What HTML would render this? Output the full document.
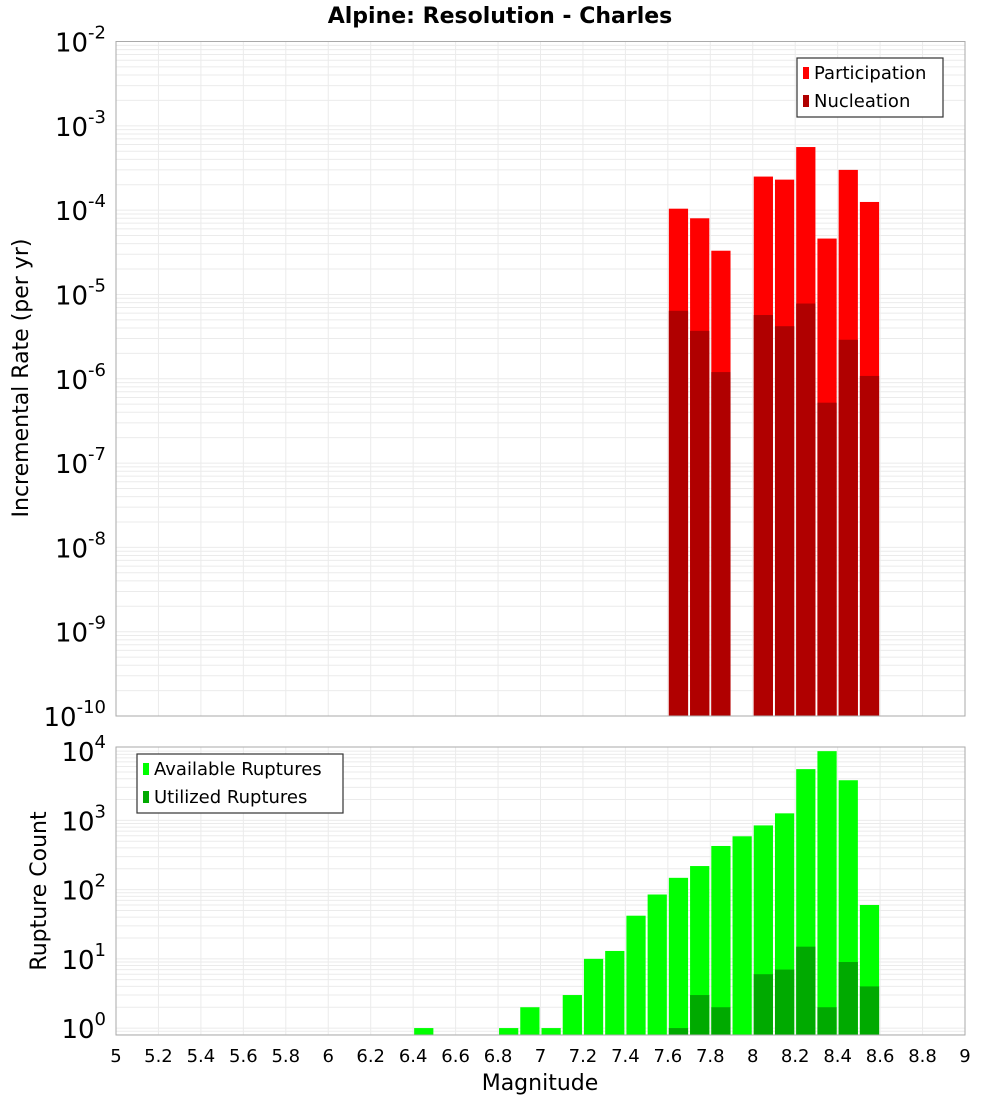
<!DOCTYPE html>
<html><head><meta charset="utf-8"><style>
body{margin:0;background:#fff;}
svg{display:block;font-family:"DejaVu Sans","Liberation Sans",sans-serif;}
</style></head><body>
<svg id="chart" width="1000" height="1100" viewBox="0 0 1000 1100" xmlns="http://www.w3.org/2000/svg">
<text x="500" y="23" text-anchor="middle" font-size="22" font-weight="bold">Alpine: Resolution - Charles</text>
<g id="top"></g>
<g id="bot"></g>
<text transform="translate(28,378) rotate(-90)" text-anchor="middle" font-size="22">Incremental Rate (per yr)</text>
<text transform="translate(46,891) rotate(-90)" text-anchor="middle" font-size="22">Rupture Count</text>
<text x="540" y="1090" text-anchor="middle" font-size="22">Magnitude</text>
</svg>
<script>
const rateBins = [7.6,7.7,7.8,8.0,8.1,8.2,8.3,8.4,8.5];
const participation = [1.04e-4,8.0e-5,3.3e-5,2.5e-4,2.3e-4,5.6e-4,4.6e-5,3.0e-4,1.25e-4];
const nucleation = [6.4e-6,3.7e-6,1.2e-6,5.7e-6,4.2e-6,7.8e-6,5.2e-7,2.9e-6,1.08e-6];
const countBins = [6.4,6.8,6.9,7.0,7.1,7.2,7.3,7.4,7.5,7.6,7.7,7.8,7.9,8.0,8.1,8.2,8.3,8.4,8.5];
const available = [1,1,2,1,3,10,13,42,85,148,219,427,589,846,1264,5500,10000,3800,60];
const utilizedBins = [7.6,7.7,7.8,8.0,8.1,8.2,8.3,8.4,8.5];
const utilized = [1,3,2,6,7,15,2,9,4];
const xTicks = ["5","5.2","5.4","5.6","5.8","6","6.2","6.4","6.6","6.8","7","7.2","7.4","7.6","7.8","8","8.2","8.4","8.6","8.8","9"];
const topExps = [-2,-3,-4,-5,-6,-7,-8,-9,-10];
const botExps = [4,3,2,1,0];

const NS="http://www.w3.org/2000/svg";
function mk(parent,tag,attrs,text){const e=document.createElementNS(NS,tag);for(const k in attrs)e.setAttribute(k,attrs[k]);if(text!==undefined)e.textContent=text;parent.appendChild(e);return e;}
const X0=116,X1=965;
const xs=m=>X0+(m-5)/4*(X1-X0);

function panel(g,top,bottom,lmin,lmax,prefix){
  const ys=v=>bottom-(Math.log10(v)-lmin)/(lmax-lmin)*(bottom-top);
  const grid=mk(g,'g',{});
  
  
  for(let d=Math.floor(lmin);d<=Math.ceil(lmax);d++){for(let k=1;k<10;k++){const v=k*Math.pow(10,d);const l=Math.log10(v);if(l<lmin||l>lmax)continue;const y=ys(v);mk(grid,'line',{x1:X0,x2:X1,y1:y,y2:y,stroke:'#ebebeb','stroke-width':1});}}
  for(let i=0;i<xTicks.length;i++){const x=xs(parseFloat(xTicks[i]));mk(grid,'line',{x1:x,x2:x,y1:top,y2:bottom,stroke:'#ebebeb','stroke-width':1});}
  return ys;
}
function bars(g,ys,bins,vals,color,bottom,name){
  for(let i=0;i<bins.length;i++){const x=xs(bins[i]),w=xs(bins[i]+0.1)-x;const y=ys(vals[i]);
    const r=mk(g,'rect',{x:x+1,y:y,width:w-2,height:bottom-y,fill:color});
    
    }
}
function frame(g,top,bottom){mk(g,'rect',{x:X0,y:top,width:X1-X0,height:bottom-top,fill:'none',stroke:'#aaa','stroke-width':1});}
function ylab(g,ys,exps,name){
  exps.forEach(e=>{const y=ys(Math.pow(10,e));const t=mk(g,'text',{x:106,y:y+10,'text-anchor':'end','font-size':26});
    
    
    mk(t,'tspan',{},'10');mk(t,'tspan',{dy:-13,'font-size':18},String(e));});
}
function legend(g,x,y,w,items,name){
  const lg=mk(g,'g',{});
  
  
  mk(lg,'rect',{x:x,y:y,width:w,height:59,fill:'#fff',stroke:'#333','stroke-width':1.2});
  items.forEach((it,i)=>{mk(lg,'rect',{x:x+6,y:y+9+i*28,width:6,height:12,fill:it[1]});
    const t=mk(lg,'text',{x:x+17,y:y+21+i*28,'font-size':18},it[0]);
    
    });
}
// top
const gt=document.getElementById('top');
const ysT=panel(gt,41.5,716,-10,-2,'rate');
bars(gt,ysT,rateBins,participation,'#ff0000',716,'participation-bar');
bars(gt,ysT,rateBins,nucleation,'#b00000',716,'nucleation-bar');
frame(gt,41.5,716);ylab(gt,ysT,topExps,'rate');
legend(gt,797,58,146,[['Participation','#ff0000'],['Nucleation','#b00000']],'rate-legend');
// bottom
const gb=document.getElementById('bot');
const ysB=panel(gb,747,1035,-0.1,4.06,'count');
bars(gb,ysB,countBins,available,'#00ff00',1035,'available-bar');
bars(gb,ysB,utilizedBins,utilized,'#00aa00',1035,'utilized-bar');
frame(gb,747,1035);ylab(gb,ysB,botExps,'count');
legend(gb,137,754,206,[['Available Ruptures','#00ff00'],['Utilized Ruptures','#00aa00']],'count-legend');
xTicks.forEach(s=>{const t=mk(gb,'text',{x:xs(parseFloat(s)),y:1062,'text-anchor':'middle','font-size':18},s);
  
  });
</script>
</body></html>
